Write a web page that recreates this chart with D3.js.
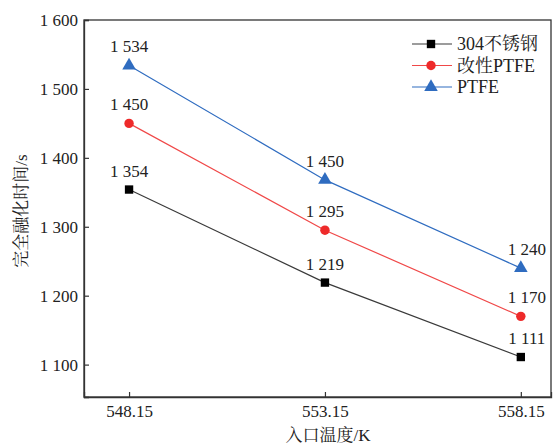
<!DOCTYPE html>
<html><head><meta charset="utf-8">
<script src="https://cdn.jsdelivr.net/npm/d3@7"></script>
<style>body{margin:0;background:#fff}</style>
</head><body>
<svg id="c" width="554" height="445"></svg>
<script>
const temps = [548.15, 553.15, 558.15];
const tempLabels = ["548.15", "553.15", "558.15"];
const seriesNames = ["304不锈钢", "改性PTFE", "PTFE"];
const steelValues = [1354, 1219, 1111];
const modPtfeValues = [1450, 1295, 1170];
const ptfeValues = [1534, 1368, 1240];
const steelLabels = ["1 354", "1 219", "1 111"];
const modPtfeLabels = ["1 450", "1 295", "1 170"];
const ptfeLabels = ["1 534", "1 450", "1 240"];
const yTicks = [1100, 1200, 1300, 1400, 1500, 1600];
const yTickLabels = ["1 100", "1 200", "1 300", "1 400", "1 500", "1 600"];

const series = [
  {name: seriesNames[0], values: steelValues, labels: steelLabels, color: "#000000", line: "#3a3a3a", shape: d3.symbolSquare},
  {name: seriesNames[1], values: modPtfeValues, labels: modPtfeLabels, color: "#ee2a2a", line: "#f04848", shape: d3.symbolCircle},
  {name: seriesNames[2], values: ptfeValues, labels: ptfeLabels, color: "#2f6cc0", line: "#2f6cc0", shape: d3.symbolTriangle}
];

const FONT = "Liberation Serif, Noto Serif CJK SC, serif";
const L = 84, R = 551, T = 20, B = 397;
const svg = d3.select("#c");
const x = d3.scaleLinear().domain([547.0, 558.92]).range([L, R]);
const y = d3.scaleLinear().domain([1053, 1600]).range([B, T]);

svg.append("rect").attr("x", L).attr("y", T).attr("width", R - L).attr("height", B - T)
  .attr("fill", "none").attr("stroke", "#333").attr("stroke-width", 1.3);

const yAxis = d3.axisLeft(y).tickValues(yTicks).tickSize(-5).tickPadding(6)
  .tickFormat((d, i) => yTickLabels[i]);
const gy = svg.append("g").attr("transform", `translate(${L},0)`).call(yAxis);
const xAxis = d3.axisBottom(x).tickValues(temps).tickSize(-5).tickPadding(8)
  .tickFormat((d, i) => tempLabels[i]);
const gx = svg.append("g").attr("transform", `translate(0,${B})`).call(xAxis);
[gx, gy].forEach(g => {
  g.attr("font-family", FONT).attr("font-size", 17);
  g.select(".domain").attr("stroke", "#333").attr("stroke-width", 1.3);
  g.selectAll(".tick line").attr("stroke", "#333").attr("stroke-width", 1.2);
  g.selectAll(".tick text").attr("fill", "#222");
});

const line = d3.line().x((d, i) => x(temps[i])).y(d => y(d));
series.forEach(s => {
  svg.append("path").datum(s.values).attr("d", line).attr("fill", "none")
    .attr("stroke", s.line).attr("stroke-width", 1.2);
  svg.selectAll(null).data(s.values).enter().append("path")
    .attr("d", d3.symbol().type(s.shape).size(s.shape === d3.symbolTriangle ? 80 : 70))
    .attr("transform", (d, i) => `translate(${x(temps[i])},${y(d)})`)
    .attr("fill", s.color);
  svg.selectAll(null).data(s.values).enter().append("text")
    .attr("x", (d, i) => x(temps[i]) + (i === 2 ? 6 : 0))
    .attr("y", d => y(d) - 13)
    .attr("text-anchor", "middle").attr("font-family", FONT).attr("font-size", 17).attr("fill", "#222")
    .text((d, i) => s.labels[i]);
});

const lg = svg.append("g");
series.forEach((s, i) => {
  const yy = 44 + i * 21.5;
  lg.append("line").attr("x1", 412).attr("x2", 452).attr("y1", yy).attr("y2", yy)
    .attr("stroke", s.line).attr("stroke-width", 1.2);
  lg.append("path").attr("d", d3.symbol().type(s.shape).size(s.shape === d3.symbolTriangle ? 80 : 70))
    .attr("transform", `translate(431,${yy})`).attr("fill", s.color);
  lg.append("text").attr("x", 457).attr("y", yy + 6).attr("font-family", FONT).attr("font-size", 18)
    .attr("fill", "#222").text(s.name);
});

svg.append("text").attr("transform", "translate(27,211) rotate(-90)").attr("text-anchor", "middle")
  .attr("font-family", FONT).attr("font-size", 17).attr("fill", "#222").text("完全融化时间/s");
svg.append("text").attr("x", 328).attr("y", 441).attr("text-anchor", "middle")
  .attr("font-family", FONT).attr("font-size", 17).attr("fill", "#222").text("入口温度/K");
</script>
</body></html>
